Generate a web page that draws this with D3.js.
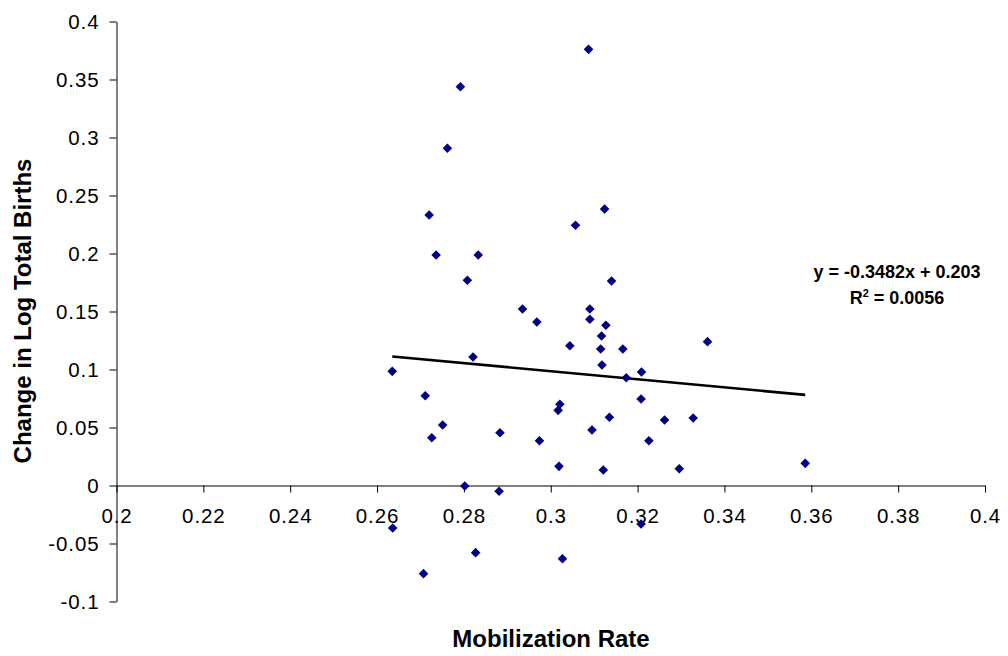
<!DOCTYPE html>
<html>
<head>
<meta charset="utf-8">
<script src="https://cdn.jsdelivr.net/npm/d3@7"></script>
<style>
  html, body { margin: 0; padding: 0; background: #fff; }
  svg { display: block; font-family: "Liberation Sans", Arial, Helvetica, sans-serif; }
</style>
</head>
<body>
<svg id="chart" width="1008" height="656"></svg>
<script>
// Data
const mobilizationRate = [
  0.2792, 0.2762, 0.2720, 0.2736, 0.2833, 0.2808, 0.2935, 0.2821, 0.2635, 0.2711,
  0.2751, 0.2726, 0.2883, 0.2802, 0.2881, 0.2636, 0.2827, 0.2707, 0.3087, 0.3124,
  0.3057, 0.3140, 0.3090, 0.2968, 0.3090, 0.3127, 0.3117, 0.3044, 0.3115, 0.3166,
  0.3118, 0.3209, 0.3174, 0.3208, 0.3021, 0.3017, 0.3135, 0.3095, 0.2974, 0.3226,
  0.3019, 0.3121, 0.3208, 0.3027, 0.3361, 0.3262, 0.3328, 0.3296, 0.3586
];
const changeLogBirths = [
  0.3438, 0.2907, 0.2332, 0.1987, 0.1987, 0.1769, 0.1522, 0.1108, 0.0984, 0.0774,
  0.0522, 0.0412, 0.0455, -0.0004, -0.0050, -0.0366, -0.0579, -0.0760, 0.3760, 0.2384,
  0.2243, 0.1763, 0.1522, 0.1409, 0.1433, 0.1381, 0.1289, 0.1205, 0.1177, 0.1177,
  0.1039, 0.0978, 0.0929, 0.0746, 0.0700, 0.0648, 0.0588, 0.0478, 0.0386, 0.0386,
  0.0165, 0.0134, -0.0332, -0.0631, 0.1240, 0.0565, 0.0582, 0.0145, 0.0191
];
const trendSlope = -0.3482;
const trendIntercept = 0.203;
const rSquared = "0.0056";
const xTickValues = [0.2, 0.22, 0.24, 0.26, 0.28, 0.3, 0.32, 0.34, 0.36, 0.38, 0.4];
const yTickValues = [-0.1, -0.05, 0, 0.05, 0.1, 0.15, 0.2, 0.25, 0.3, 0.35, 0.4];
const xTitle = "Mobilization Rate";
const yTitle = "Change in Log Total Births";

const svg = d3.select("#chart");
const x = d3.scaleLinear().domain([0.2, 0.4]).range([116.5, 985]);
const y = d3.scaleLinear().domain([-0.1, 0.4]).range([601.5, 21.5]);
const fmt = d => String(+d.toFixed(2));

// Y axis
const yAxis = d3.axisLeft(y).tickValues(yTickValues).tickFormat(fmt)
  .tickSize(7).tickPadding(10).tickSizeOuter(0);
const gy = svg.append("g").attr("transform", `translate(${x(0.2)},0)`).call(yAxis);
gy.select(".domain").attr("stroke", "#000").attr("stroke-width", 1);
gy.selectAll(".tick line").attr("stroke", "#000");
gy.selectAll(".tick text").attr("font-size", 20.5).attr("fill", "#000")
  .attr("letter-spacing", 0.9)
  .attr("font-family", "'Liberation Sans', Arial, sans-serif");

// X axis at y = 0
const xAxis = d3.axisBottom(x).tickValues(xTickValues).tickFormat(fmt)
  .tickSize(7).tickPadding(16).tickSizeOuter(0);
const gx = svg.append("g").attr("transform", `translate(0,${y(0)})`).call(xAxis);
gx.select(".domain").attr("stroke", "#000").attr("stroke-width", 1);
gx.selectAll(".tick line").attr("stroke", "#000");
gx.selectAll(".tick text").attr("font-size", 20.5).attr("fill", "#000")
  .attr("letter-spacing", 0.9)
  .attr("font-family", "'Liberation Sans', Arial, sans-serif");

// Trend line
const xmin = d3.min(mobilizationRate), xmax = d3.max(mobilizationRate);
const trend = [xmin, xmax].map(v => [v, trendSlope * v + trendIntercept]);
svg.append("path")
  .datum(trend)
  .attr("fill", "none")
  .attr("stroke", "#000")
  .attr("stroke-width", 2.6)
  .attr("d", d3.line().x(d => x(d[0])).y(d => y(d[1])));

// Points
const sym = d3.symbol().type(d3.symbolSquare).size(46);
svg.append("g").selectAll("path")
  .data(mobilizationRate.map((v, i) => [v, changeLogBirths[i]]))
  .join("path")
  .attr("d", sym)
  .attr("transform", d => `translate(${x(d[0])},${y(d[1])}) rotate(45)`)
  .attr("fill", "#000080");

// Equation label
svg.append("text")
  .attr("x", 897).attr("y", 278)
  .attr("text-anchor", "middle")
  .attr("font-size", 18).attr("font-weight", "bold")
  .text(`y = ${trendSlope}x + ${trendIntercept}`);
const r2 = svg.append("text")
  .attr("x", 897).attr("y", 304)
  .attr("text-anchor", "middle")
  .attr("font-size", 18).attr("font-weight", "bold");
r2.append("tspan").text("R");
r2.append("tspan").attr("dy", -7).attr("font-size", 11).text("2");
r2.append("tspan").attr("dy", 7).text(` = ${rSquared}`);

// Axis titles
svg.append("text")
  .attr("x", 551).attr("y", 647)
  .attr("text-anchor", "middle")
  .attr("font-size", 24).attr("font-weight", "bold")
  .text(xTitle);
svg.append("text")
  .attr("transform", "translate(31,311) rotate(-90)")
  .attr("text-anchor", "middle")
  .attr("font-size", 24).attr("font-weight", "bold")
  .text(yTitle);
</script>
</body>
</html>
